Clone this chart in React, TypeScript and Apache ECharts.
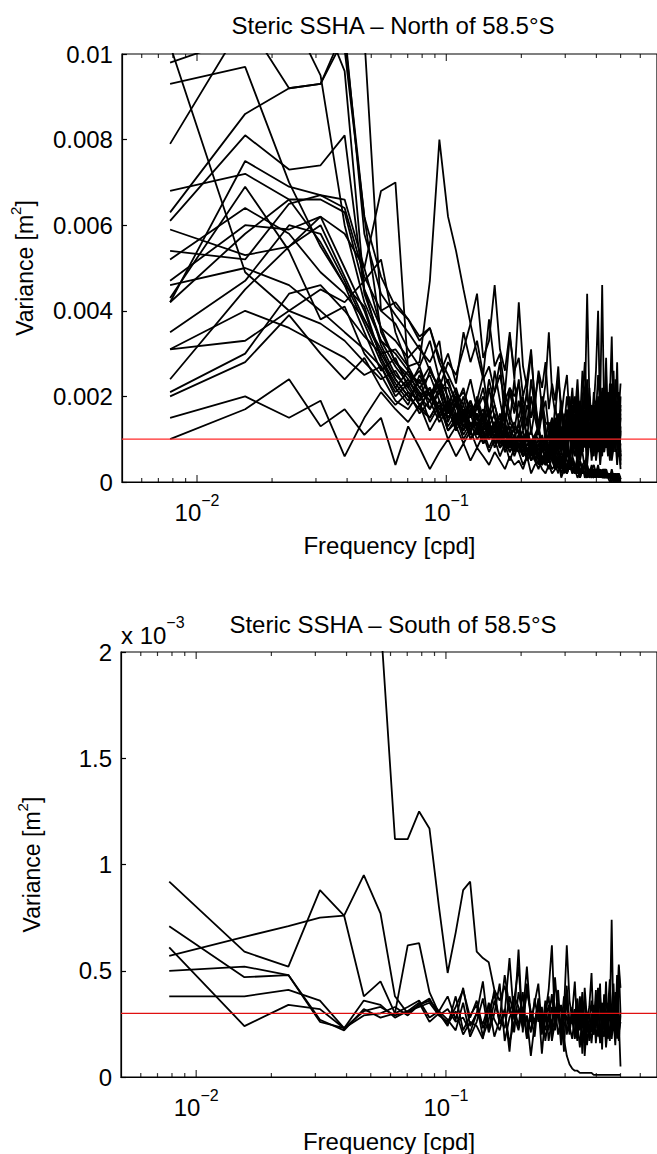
import React, { useEffect, useRef } from "react";
import * as echarts from "echarts";

// Frequencies (cpd) of the spectral estimates
const freqCpd = [
  0.0078, 0.0156, 0.0234, 0.0313, 0.0391, 0.0469, 0.0547, 0.0625,
  0.0703, 0.0781, 0.0859, 0.0938, 0.1016, 0.1094, 0.1172, 0.125,
  0.1328, 0.1406, 0.1484, 0.1563, 0.1641, 0.1719, 0.1797, 0.1875,
  0.1953, 0.2031, 0.2109, 0.2188, 0.2266, 0.2344, 0.2422, 0.25,
  0.2578, 0.2656, 0.2734, 0.2813, 0.2891, 0.2969, 0.3047, 0.3125,
  0.3203, 0.3281, 0.3359, 0.3438, 0.3516, 0.3594, 0.3672, 0.375,
  0.3828, 0.3906, 0.3984, 0.4063, 0.4141, 0.4219, 0.4297, 0.4375,
  0.4453, 0.4531, 0.4609, 0.4688, 0.4766, 0.4844, 0.4922, 0.5,
];

const xMajorTicks = [0.01, 0.1];
const xMinorTicks = [0.006, 0.007, 0.008, 0.009, 0.02, 0.03, 0.04, 0.05, 0.06, 0.07, 0.08, 0.09, 0.2, 0.3, 0.4, 0.5, 0.6];
const xRange = [0.005, 0.7];
const northYTicks = [0, 0.002, 0.004, 0.006, 0.008, 0.01];
const southYTicks = [0, 0.0005, 0.001, 0.0015, 0.002];
const northThreshold = 0.001;
const southThreshold = 0.0003;

// North of 58.5S: variance in units of 1e-4 m^2
const n01 = [125,118,112,104,101,62,35,28, 24,20,22,17,15,18,13,12, 14,10,12,9,11,8,10,7, 9,6,8,5,7,6,4,6, 9,14,6,12,17,8,13,5, 11,16,7,19,10,14,6,12, 18,9,13,7,15,11,20,8, 12,17,6,14,10,19,7,15];
const n02 = [140,130,121,110,96,45,36,33, 29,32,26,22,22,16,14,19, 12,15,11,13,9,12,10,8, 11,9,7,10,8,6,9,7, 12,7,15,10,18,6,11,14, 8,13,20,9,12,16,7,11, 14,6,17,10,13,19,8,12, 16,9,11,22,7,13,18,4];
const n03 = [160,150,135,118,115,104,40,42, 38,33,36,28,23,19,21,17, 18,14,16,13,15,11,14,12, 13,10,12,9,11,13,8,10, 7,13,9,16,11,5,14,10, 17,8,12,6,15,21,9,13, 7,18,11,16,6,12,22,10, 15,8,19,11,24,9,13,17];
const n04 = [102,49,40,37,33,28,24,26, 21,19,22,16,18,14,17,13, 15,12,10,13,9,11,8,10, 7,9,6,8,5,7,6,4, 6,5,3,5,4,2,4,3, 3,4,2,3,2,4,1,3, 2,1,3,2,1,2,3,1, 2,1,1,2,1,1,0,1];
const n05 = [98,104,110,95,60,42,33,30, 26,23,27,21,24,18,22,15, 19,14,17,12,16,11,13,10, 14,9,12,8,11,10,7,9, 8,10,6,9,7,5,8,6, 14,9,17,12,7,15,10,19, 11,16,8,20,13,9,17,12, 21,10,15,8,18,11,14,6];
const n06 = [93,97,70,55,46,41,29,22, 18,25,20,16,19,13,17,11, 18,12,22,15,11,19,14,24, 13,17,10,20,15,11,18,9, 10,15,8,13,19,9,12,16, 7,11,17,13,9,22,12,8, 15,10,18,7,13,16,11,25, 9,14,12,20,8,15,10,6];
const n07 = [79,108,92,93,104,62,48,41, 38,34,36,29,25,21,18,24, 17,20,15,18,13,16,12,14, 11,15,10,12,9,13,8,10, 14,9,18,12,7,16,11,20, 13,8,15,10,19,12,24,9, 14,17,8,12,21,10,16,13, 19,7,23,11,15,28,9,18];
const n08 = [68,72,66,66,63,45,32,25, 22,18,21,15,19,14,12,16, 11,14,10,12,8,11,9,7, 10,8,6,9,7,5,8,6, 5,9,12,7,10,14,8,11, 6,13,9,15,7,11,10,17, 12,8,14,9,16,11,7,13, 10,18,8,12,15,9,21,11];
const n09 = [63,86,92,93,106,58,44,39, 35,31,28,33,18,22,16,19, 15,17,13,16,12,14,10,13, 12,9,11,8,10,12,7,9, 8,10,6,8,5,7,9,5, 10,13,7,16,9,12,6,14, 8,11,15,7,12,9,17,10, 13,6,11,18,9,14,7,12];
const n10 = [61,81,73,74,81,44,33,27, 23,26,20,24,17,15,20,13, 16,12,14,10,13,9,11,12, 8,10,7,9,11,6,8,5, 8,12,15,9,13,7,17,11, 14,20,9,13,7,16,10,18, 12,8,15,11,19,14,9,13, 20,12,16,8,13,10,17,23];
const n11 = [59,53,55,60,48,38,30,24, 20,17,22,15,18,13,16,11, 20,15,24,18,13,21,16,12, 19,14,22,11,17,13,20,10, 11,6,14,9,17,12,8,15, 10,13,19,7,12,16,9,14, 11,18,6,13,10,15,20,9, 14,11,7,16,12,9,13,5];
const n12 = [54,52,65,67,66,50,36,28, 25,21,19,23,16,20,14,17, 13,15,11,14,10,12,9,11, 8,10,12,7,9,6,8,10, 6,8,5,7,4,6,5,3, 6,9,4,11,7,3,8,12, 5,10,6,13,4,9,7,11, 6,14,5,8,10,4,9,3];
const n13 = [47,60,59,62,50,40,29,23, 19,24,17,21,15,18,12,16, 17,22,14,26,19,13,21,16, 24,12,18,15,21,11,16,13, 6,10,13,8,11,15,7,12, 9,14,6,11,17,8,13,10, 16,7,12,9,14,22,11,8, 13,10,17,7,12,15,9,20];
const n14 = [46,50,46,40,35,31,27,20, 23,18,15,19,13,16,11,14, 10,12,8,11,13,7,9,10, 8,6,9,7,5,8,6,4, 7,5,6,3,5,4,2,6, 4,3,5,2,3,4,3,1, 2,3,2,4,1,2,3,1, 2,1,1,2,1,2,1,0];
const n15 = [43,69,54,38,41,30,25,19, 17,21,14,18,12,15,10,13, 16,9,11,12,8,10,7,9, 11,6,8,5,7,9,4,6, 5,7,4,6,3,5,4,3, 5,2,4,3,2,4,3,2, 3,1,2,3,2,1,2,3, 1,2,1,1,2,1,0,1];
const n16 = [42,75,69,67,64,48,40,37, 31,27,33,24,20,15,18,12, 15,11,13,10,14,9,12,8, 10,12,7,9,8,6,10,7, 5,8,6,4,7,5,3,6, 9,6,11,5,8,12,4,10, 7,13,5,9,11,6,14,8, 10,5,12,7,16,9,6,11];
const n17 = [35,47,60,58,47,37,28,22, 26,20,17,22,14,19,13,16, 19,25,16,21,28,14,22,18, 15,20,13,24,17,12,19,14, 13,8,11,16,10,14,6,12, 17,9,13,11,7,15,10,19, 8,12,16,10,13,7,18,11, 9,15,12,26,10,14,8,16];
const n18 = [31,33,40,45,42,47,52,35, 27,22,25,19,16,21,14,17, 13,15,11,12,10,13,8,10, 9,7,11,6,8,10,5,7, 6,8,4,6,5,3,7,4, 5,3,6,2,4,5,3,2, 4,2,3,2,1,3,2,3, 1,2,1,2,1,1,2,1];
const n19 = [24,45,55,62,58,50,68,70, 26,22,19,24,17,20,15,18, 13,16,12,14,10,13,9,11, 12,8,10,7,9,6,11,8, 7,5,8,6,4,7,5,3, 6,4,3,5,2,4,3,2, 3,4,2,3,2,1,3,2, 2,1,3,1,2,1,1,1];
const n20 = [21,30,44,46,40,34,30,31, 27,28,47,80,62,54,45,37, 30,24,27,21,25,19,22,20, 23,17,20,15,18,14,16,19, 12,15,11,14,9,12,10,13, 18,11,21,14,9,17,12,20, 15,8,19,13,22,10,16,11, 14,23,9,17,12,19,8,13];
const n21 = [20,28,39,30,24,29,22,18, 21,16,19,14,17,12,15,10, 13,9,11,14,8,10,7,9, 11,6,8,5,7,9,4,6, 5,7,3,5,6,4,2,5, 3,4,2,5,3,2,4,1, 3,2,1,2,3,1,2,1, 1,2,1,1,0,1,1,1];
const n22 = [15,20,15,19,6,15,21,17, 14,18,12,16,10,13,9,12, 8,11,7,10,6,9,5,8, 7,4,6,9,5,3,6,4, 5,3,4,2,6,3,2,4, 3,2,4,1,3,2,1,3, 2,1,2,3,1,2,1,2, 1,1,2,0,1,1,0,1];
const n23 = [10,17,24,13,17,11,15,4, 13,8,3,7,10,6,9,5, 8,6,4,7,5,3,6,4, 5,3,6,2,4,5,3,2, 4,2,3,5,1,3,2,4, 2,3,1,2,4,1,2,3, 1,2,1,3,1,2,1,1, 2,1,0,1,1,0,1,1];
const n24 = [31,40,36,32,29,25,27,21, 24,19,26,22,28,25,31,37, 44,29,33,46,31,26,35,24, 42,27,22,30,19,25,17,23, 35,21,16,24,18,13,20,15, 22,12,18,14,26,17,44,19, 13,21,16,25,18,46,15,22, 12,19,10,16,8,13,6,9];
const n25 = [42,58,66,56,46,35,26,29, 22,27,20,25,30,23,35,28, 33,25,38,27,30,21,34,26, 29,20,24,31,18,26,22,28, 17,23,19,27,15,21,25,14, 20,16,24,13,19,28,15,22, 12,18,26,40,14,21,17,29, 11,20,34,13,18,9,15,7];
const n26 = [52,64,58,49,44,38,31,24, 20,17,15,19,12,14,16,10, 12,9,13,8,11,7,10,6, 9,8,5,7,6,4,8,5, 3,6,4,5,2,4,3,5, 2,4,3,1,3,2,4,2, 1,3,2,1,2,1,1,2, 1,0,1,1,0,1,0,0];
const northUnit = 1e-4;
const northLines = [n01, n02, n03, n04, n05, n06, n07, n08, n09, n10, n11, n12, n13, n14, n15, n16, n17, n18, n19, n20, n21, n22, n23, n24, n25, n26];

// South of 58.5S: variance in units of 1e-5 m^2
const s01 = [850,700,620,540,450,330,215,112, 112,125,117,80,49,68,88,92, 59,56,54,41,36,43,30,38, 33,27,40,31,24,35,29,22, 30,25,33,20,27,18,10,6, 4,3,3,2,2,2,2,2, 2,1,1,1,1,1,1,1, 1,1,1,1,1,1,1,1];
const s02 = [92,59,52,88,76,38,45,30, 33,36,28,31,38,27,42,24, 30,45,22,36,27,48,33,21, 40,29,52,26,35,44,23,31, 38,20,47,28,34,12,41,25, 30,45,22,37,11,42,27,33, 49,21,36,28,44,13,39,25, 32,46,20,38,29,41,24,30];
const s03 = [57,66,71,75,76,95,77,38, 30,34,37,29,26,33,41,28, 36,23,31,39,25,30,56,27, 60,21,44,28,19,37,25,30, 41,62,24,35,18,29,43,22, 32,26,17,38,23,30,15,27, 36,20,28,42,16,31,24,19, 35,27,74,22,40,18,52,30];
const s04 = [71,47,48,26,23,36,34,28, 31,35,26,30,24,38,22,29, 34,19,27,41,25,32,12,36, 52,24,29,21,37,26,33,17, 28,39,23,31,20,27,35,24, 18,29,37,22,32,10,26,30, 21,34,16,28,38,23,19,31, 25,17,33,44,21,48,27,5];
const s05 = [61,24,34,32,23,29,30,33, 29,34,36,31,27,22,35,19, 26,37,21,30,44,17,28,33, 24,40,19,31,26,35,11,29, 22,33,27,41,20,31,62,36, 27,19,33,24,40,21,28,17, 30,23,41,19,27,35,22,45, 18,32,24,29,36,20,53,42];
const s06 = [50,52,48,27,22,32,28,30, 62,63,40,30,25,31,20,26, 24,18,35,27,22,31,16,26, 32,23,28,10,25,30,20,36, 17,27,22,32,15,24,29,20, 33,18,26,14,29,36,21,25, 16,28,23,35,19,26,30,14, 24,37,18,27,15,33,21,26];
const s07 = [38,38,41,36,23,31,33,29, 31,33,35,29,32,26,28,21, 30,25,34,19,27,23,38,29, 22,33,18,30,25,36,21,27, 34,17,26,31,23,38,20,28, 25,32,19,27,35,16,30,22, 28,20,33,24,17,29,36,21, 27,19,31,23,38,26,17,29];
const southUnit = 1e-5;
const southLines = [s01, s02, s03, s04, s05, s06, s07];

const FONT = '"Liberation Sans", Arial, Helvetica, sans-serif';
const FS = 24;

function logLabel(v: number): string {
  const l = Math.log10(v);
  const e = Math.round(l);
  if (Math.abs(l - e) > 1e-6) return "";
  if (e === -2 || e === -1) return "10{s|\u2212" + -e + "}";
  return "";
}

function buildPanel(idx: number, lines: number[][], unit: number, yTicks: number[], threshold: number, redColor: string, yFmt: (v: number) => string) {
  const yMax = yTicks[yTicks.length - 1];
  const xAxis = {
    type: "log",
    logBase: 10,
    gridIndex: idx,
    min: xRange[0],
    max: xRange[1],
    axisLine: { show: true, lineStyle: { color: "#000", width: 1.2 } },
    axisTick: { show: false },
    splitLine: { show: false },
    minorTick: { show: false },
    axisLabel: {
      formatter: logLabel,
      color: "#000",
      fontFamily: FONT,
      fontSize: FS,
      lineHeight: 41,
      margin: 10,
      showMinLabel: false,
      showMaxLabel: false,
      rich: { s: { fontSize: 16, fontFamily: FONT, color: "#000", verticalAlign: "top" } },
    },
    name: "Frequency [cpd]",
    nameLocation: "middle",
    nameGap: 43,
    nameTextStyle: { color: "#000", fontFamily: FONT, fontSize: FS },
  };
  const yAxis = {
    type: "value",
    gridIndex: idx,
    min: 0,
    max: yMax,
    interval: yTicks[1] - yTicks[0],
    axisLine: { show: true, lineStyle: { color: "#000", width: 1.2 } },
    axisTick: { show: true, inside: true, length: 5, lineStyle: { color: "#000", width: 1.2 } },
    splitLine: { show: false },
    axisLabel: { formatter: yFmt, color: "#000", fontFamily: FONT, fontSize: FS, margin: 9 },
    name: "Variance [m{s|2}]",
    nameLocation: "middle",
    nameGap: 72,
    nameRotate: 90,
    nameTextStyle: {
      color: "#000",
      fontFamily: FONT,
      fontSize: 23,
      lineHeight: 34,
      rich: { s: { fontSize: 15, fontFamily: FONT, color: "#000", verticalAlign: "top" } },
    },
  };
  const series: any[] = lines.map((arr) => ({
    type: "line",
    xAxisIndex: idx,
    yAxisIndex: idx,
    data: arr.map((v, i) => [freqCpd[i], v * unit]),
    showSymbol: false,
    symbol: "none",
    silent: true,
    clip: true,
    lineStyle: { color: "#000", width: 1.8 },
    z: 2,
  }));
  series.push({
    type: "line",
    xAxisIndex: idx,
    yAxisIndex: idx,
    data: [[xRange[0], threshold], [xRange[1], threshold]],
    symbol: "none",
    silent: true,
    lineStyle: { color: redColor, width: 1.2 },
    z: 5,
  });
  const tickSeries = (vals: number[], y: number, len: number, dir: number) => ({
    type: "scatter",
    xAxisIndex: idx,
    yAxisIndex: idx,
    data: vals.map((v) => [v, y]),
    symbol: "rect",
    symbolSize: [1.2, len],
    symbolOffset: [0, (dir * len) / 2],
    itemStyle: { color: "#000" },
    silent: true,
    clip: false,
    z: 6,
  });
  series.push(tickSeries(xMajorTicks, 0, 7, -1));
  series.push(tickSeries(xMinorTicks, 0, 4, -1));
  series.push(tickSeries(xMajorTicks, yMax, 7, 1));
  series.push(tickSeries(xMinorTicks, yMax, 4, 1));
  return { xAxis, yAxis, series };
}

export default function App() {
  const ref = useRef<HTMLDivElement>(null);
  useEffect(() => {
    if (!ref.current) return;
    const chart = echarts.init(ref.current, undefined, { renderer: "svg" });
    const north = buildPanel(0, northLines, northUnit, northYTicks, northThreshold, "#ff2a2a", (v) =>
      v === 0 ? "0" : String(parseFloat(v.toFixed(4)))
    );
    const south = buildPanel(1, southLines, southUnit, southYTicks, southThreshold, "#e01010", (v) =>
      String(parseFloat((v * 1000).toFixed(3)))
    );
    const gridBase = { left: 121, width: 543, show: true, borderColor: "#000", borderWidth: 1.2, backgroundColor: "transparent" };
    chart.setOption({
      animation: false,
      backgroundColor: "#fff",
      textStyle: { fontFamily: FONT },
      grid: [
        { ...gridBase, top: 54, height: 428 },
        { ...gridBase, top: 652, height: 429 },
      ],
      xAxis: [north.xAxis, south.xAxis],
      yAxis: [north.yAxis, south.yAxis],
      series: [...north.series, ...south.series],
      graphic: [
        {
          type: "text",
          x: 393,
          y: 25,
          style: { text: "Steric SSHA \u2013 North of 58.5\u00b0S", fill: "#000", font: FS + "px " + FONT, align: "center", verticalAlign: "middle" },
        },
        {
          type: "text",
          x: 393,
          y: 624,
          style: { text: "Steric SSHA \u2013 South of 58.5\u00b0S", fill: "#000", font: FS + "px " + FONT, align: "center", verticalAlign: "middle" },
        },
        {
          type: "text",
          x: 121,
          y: 635,
          style: {
            text: "x 10{s|\u22123}",
            fill: "#000",
            font: FS + "px " + FONT,
            lineHeight: 41,
            align: "left",
            verticalAlign: "middle",
            rich: { s: { fontSize: 16, fontFamily: FONT, fill: "#000", verticalAlign: "top" } },
          },
        },
      ],
    });
    return () => chart.dispose();
  }, []);
  return (
    <div
      ref={ref}
      style={{ position: "fixed", left: 0, top: 0, width: 657, height: 1154, background: "#fff" }}
    />
  );
}
